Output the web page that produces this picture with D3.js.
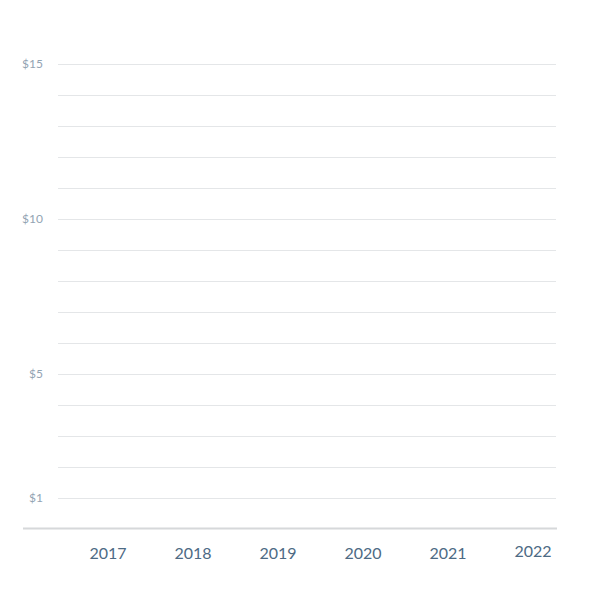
<!DOCTYPE html>
<html>
<head>
<meta charset="utf-8">
<script src="https://cdn.jsdelivr.net/npm/d3@7"></script>
<style>
  body { margin: 0; background: #fff; }
  text { font-family: Lato, "Open Sans", sans-serif; }
</style>
</head>
<body>
<div class="chart"></div>
<script>
// chart data (empty chart: only axes)
const years = ["2017", "2018", "2019", "2020", "2021", "2022"];
const gridValues = d3.range(0, 16);
const yTickValues = [1, 5, 10, 15];

const width = 600, height = 600;

const svg = d3.select(".chart")
    .append("svg")
    .attr("width", width)
    .attr("height", height);

// scales
const yScale = d3.scaleLinear().domain([0, 15]).range([529, 64]);
const xScale = d3.scalePoint().domain(years).range([108, 533]);

// gridlines
svg.append("g")
    .selectAll("line")
    .data(gridValues.filter(d => d > 0))
    .join("line")
    .attr("x1", 58)
    .attr("x2", 556)
    .attr("y1", d => yScale(d) + 0.5)
    .attr("y2", d => yScale(d) + 0.5)
    .attr("stroke", "#e4e6e8")
    .attr("stroke-width", 1.2);

// baseline
svg.append("line")
    .attr("x1", 23)
    .attr("x2", 557)
    .attr("y1", yScale(0) - 0.5)
    .attr("y2", yScale(0) - 0.5)
    .attr("stroke", "#d6d8da")
    .attr("stroke-width", 1.8);

// y labels
svg.append("g")
    .selectAll("text")
    .data(yTickValues)
    .join("text")
    .attr("x", 43)
    .attr("y", d => yScale(d))
    .attr("dy", "0.35em")
    .attr("text-anchor", "end")
    .attr("font-size", 12)
    .attr("fill", "#93a4b3")
    .text(d => "$" + d);

// x labels
svg.append("g")
    .selectAll("text")
    .data(years)
    .join("text")
    .attr("x", d => xScale(d))
    .attr("y", d => d == "2022" ? 557 : 559)
    .attr("text-anchor", "middle")
    .attr("font-size", 16)
    .attr("fill", "#4d6a84")
    .text(d => d);
</script>
</body>
</html>
